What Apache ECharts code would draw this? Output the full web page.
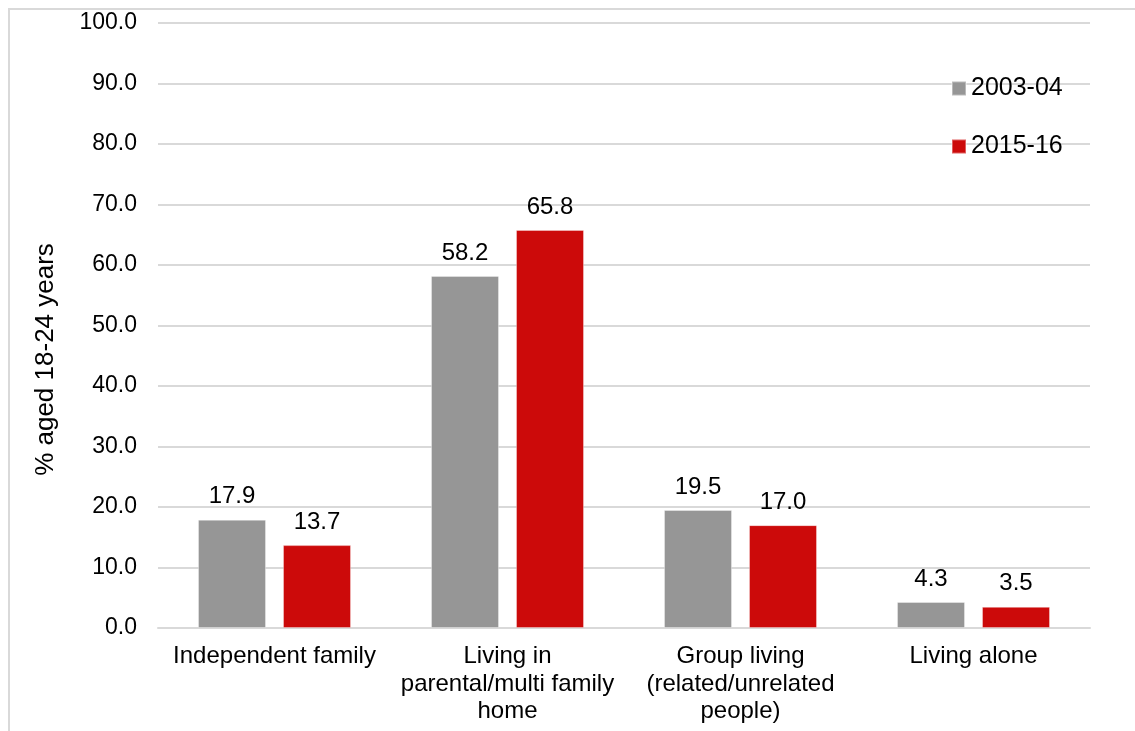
<!DOCTYPE html>
<html>
<head>
<meta charset="utf-8">
<script src="https://cdn.jsdelivr.net/npm/echarts@6/dist/echarts.min.js"></script>
<style>
  html, body { margin: 0; padding: 0; background: #ffffff; }
  #chart { width: 1135px; height: 731px; }
</style>
</head>
<body>
<div id="chart"></div>
<script>
// Living arrangements of people aged 18-24
const categories = [
  'Independent family',
  'Living in\nparental/multi family\nhome',
  'Group living\n(related/unrelated\npeople)',
  'Living alone'
];
const seriesNames = ['2003-04', '2015-16'];
const values2003 = [17.9, 58.2, 19.5, 4.3];
const values2015 = [13.7, 65.8, 17.0, 3.5];
const seriesColors = ['#969696', '#CC0A0A'];

const FONT = '"Liberation Sans", Arial, sans-serif';
const chart = echarts.init(document.getElementById('chart'));

function barSeries(name, data, color) {
  return {
    name: name,
    type: 'bar',
    data: data,
    barWidth: 68,
    barGap: '25%',
    itemStyle: { color: color, borderColor: 'rgba(255,255,255,0.35)', borderWidth: 1 },
    label: {
      show: true,
      position: 'top',
      distance: 11,
      formatter: p => p.value.toFixed(1),
      color: '#000',
      fontFamily: FONT,
      fontSize: 24
    }
  };
}

chart.setOption({
  animation: false,
  backgroundColor: '#ffffff',
  graphic: [{
    type: 'rect',
    shape: { x: 9, y: 9, width: 1140, height: 740 },
    style: { fill: 'none', stroke: '#d9d9d9', lineWidth: 2 },
    silent: true
  }],
  grid: { left: 158, right: 45, top: 23, bottom: 103 },
  legend: {
    orient: 'vertical',
    left: 946,
    top: 71,
    itemWidth: 14,
    itemHeight: 14,
    itemGap: 33,
    icon: 'rect',
    textStyle: { fontFamily: FONT, fontSize: 25, color: '#000' },
    data: seriesNames
  },
  xAxis: {
    type: 'category',
    data: categories,
    axisTick: { show: false },
    axisLine: { lineStyle: { color: '#d9d9d9', width: 2 } },
    axisLabel: {
      color: '#000',
      fontFamily: FONT,
      fontSize: 24,
      lineHeight: 27.5,
      margin: 15,
      interval: 0
    }
  },
  yAxis: {
    type: 'value',
    min: 0,
    max: 100,
    interval: 10,
    name: '% aged 18-24 years',
    nameLocation: 'middle',
    nameGap: 99,
    nameRotate: 90,
    nameTextStyle: { color: '#000', fontFamily: FONT, fontSize: 26, padding: [0, 68, 0, 0] },
    axisLine: { show: false },
    axisTick: { show: false },
    axisLabel: {
      color: '#000',
      fontFamily: FONT,
      fontSize: 23,
      margin: 21,
      formatter: v => v.toFixed(1)
    },
    splitLine: { lineStyle: { color: '#d9d9d9', width: 2 } }
  },
  series: [
    barSeries(seriesNames[0], values2003, seriesColors[0]),
    barSeries(seriesNames[1], values2015, seriesColors[1])
  ]
});
</script>
</body>
</html>
